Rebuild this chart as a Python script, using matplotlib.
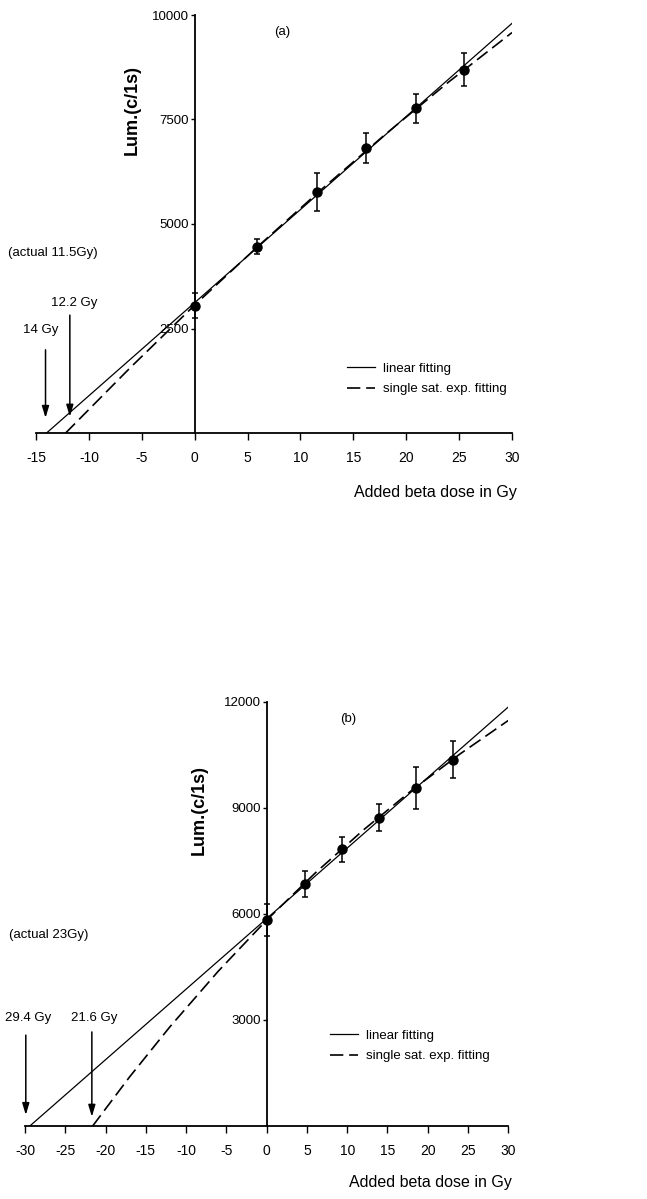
import matplotlib
matplotlib.use('Agg')
import matplotlib.pyplot as plt
from matplotlib.lines import Line2D

plt.rcParams['font.family'] = ['Liberation Sans', 'DejaVu Sans']
plt.rcParams['axes.unicode_minus'] = False

# panel (a) data
dose_a = [0, 5.9, 11.6, 16.2, 20.9, 25.5]
lum_a = [3040, 4460, 5770, 6810, 7770, 8690]
err_a = [300, 170, 450, 360, 350, 390]
lin_a_x = [-14.0, 30]
lin_a_y = [0, 9800]
exp_a_x = [-12.2, -6, 0, 6, 12, 18, 24, 30]
exp_a_y = [0, 1585, 3060, 4470, 5830, 7140, 8395, 9580]

# panel (b) data
dose_b = [0, 4.7, 9.3, 13.9, 18.5, 23.1]
lum_b = [5820, 6840, 7820, 8720, 9560, 10360]
err_b = [460, 360, 340, 390, 590, 520]
lin_b_x = [-29.4, 30]
lin_b_y = [0, 11850]
exp_b_x = [-21.6, -17, -12, -6, 0, 6, 12, 18, 24, 30]
exp_b_y = [0, 1393, 2808, 4380, 5823, 7149, 8370, 9491, 10521, 11469]

W, H = 647, 1199
fig = plt.figure(figsize=(W / 100, H / 100), dpi=100)


def px(x, y):
    return x / W, 1 - y / H


def panel(rect, xlim, xticks, ylim, yticks, dose, lum, err, lx, ly, ex, ey):
    ax = fig.add_axes(rect)
    ax.plot(lx, ly, color='black', lw=0.9)
    ax.plot(ex, ey, color='black', lw=1.2, dashes=(8, 3.5))
    ax.errorbar(dose, lum, yerr=err, fmt='o', color='black', ms=6.5,
                elinewidth=1.1, capsize=2.5, capthick=1.1)
    ax.set_xlim(xlim)
    ax.set_ylim(ylim)
    ax.set_xticks(xticks)
    ax.set_yticks(yticks)
    ax.spines['top'].set_visible(False)
    ax.spines['right'].set_visible(False)
    ax.spines['left'].set_position(('data', 0))
    ax.spines['left'].set_linewidth(1.3)
    ax.spines['bottom'].set_linewidth(1.3)
    ax.tick_params(axis='x', direction='out', length=5, width=1, pad=8, labelsize=10)
    ax.tick_params(axis='y', direction='out', length=3, width=1, pad=1, labelsize=9.5)
    ax.patch.set_alpha(0)
    return ax


arrow = dict(arrowstyle='-|>,head_length=0.5,head_width=0.15', color='black',
             lw=1.1, mutation_scale=14, shrinkA=0, shrinkB=0)

# ---- panel (a)
x0, y0 = px(36, 433)
x1, y1 = px(512, 15)
ax1 = panel([x0, y0, x1 - x0, y1 - y0], (-15, 30), range(-15, 31, 5),
            (0, 10000), [2500, 5000, 7500, 10000],
            dose_a, lum_a, err_a, lin_a_x, lin_a_y, exp_a_x, exp_a_y)
ax1.text(8.25, 9590, '(a)', ha='center', va='center', fontsize=9.5)
ax1.text(-13.4, 4310, '(actual 11.5Gy)', ha='center', va='center', fontsize=9.5)
ax1.text(-14.6, 2460, '14 Gy', ha='center', va='center', fontsize=9.5)
ax1.text(-11.4, 3110, '12.2 Gy', ha='center', va='center', fontsize=9.5)
ax1.annotate('', xy=(-14.1, 360), xytext=(-14.1, 1990), arrowprops=arrow)
ax1.annotate('', xy=(-11.8, 390), xytext=(-11.8, 2820), arrowprops=arrow)

handles = [Line2D([], [], color='black', lw=0.9),
           Line2D([], [], color='black', lw=1.2, dashes=(8, 3.5))]
labels = ['linear fitting', 'single sat. exp. fitting']
fig.legend(handles, labels, loc='center left', bbox_to_anchor=px(347, 379),
           frameon=False, borderpad=0, borderaxespad=0, handlelength=2.1,
           handletextpad=0.6, labelspacing=0.6, fontsize=9.5)
fig.text(*px(517, 493), 'Added beta dose in Gy', ha='right', va='center', fontsize=11.5)
fig.text(*px(132, 110), 'Lum.(c/1s)', ha='center', va='center', rotation=90,
         fontsize=13, fontweight='bold')

# ---- panel (b)
x0, y0 = px(25, 1126)
x1, y1 = px(508.3, 701.7)
ax2 = panel([x0, y0, x1 - x0, y1 - y0], (-30, 30), range(-30, 31, 5),
            (0, 12000), [3000, 6000, 9000, 12000],
            dose_b, lum_b, err_b, lin_b_x, lin_b_y, exp_b_x, exp_b_y)
ax2.text(10.1, 11500, '(b)', ha='center', va='center', fontsize=9.5)
ax2.text(-27.1, 5395, '(actual 23Gy)', ha='center', va='center', fontsize=9.5)
ax2.text(-29.65, 3050, '29.4 Gy', ha='center', va='center', fontsize=9.5)
ax2.text(-21.4, 3050, '21.6 Gy', ha='center', va='center', fontsize=9.5)
ax2.annotate('', xy=(-29.9, 310), xytext=(-29.9, 2570), arrowprops=arrow)
ax2.annotate('', xy=(-21.7, 260), xytext=(-21.7, 2660), arrowprops=arrow)

fig.legend(handles, labels, loc='center left', bbox_to_anchor=px(330, 1046),
           frameon=False, borderpad=0, borderaxespad=0, handlelength=2.1,
           handletextpad=0.6, labelspacing=0.6, fontsize=9.5)
fig.text(*px(512, 1183), 'Added beta dose in Gy', ha='right', va='center', fontsize=11.5)
fig.text(*px(199, 810), 'Lum.(c/1s)', ha='center', va='center', rotation=90,
         fontsize=13, fontweight='bold')

fig.savefig('out.png', dpi=100)
